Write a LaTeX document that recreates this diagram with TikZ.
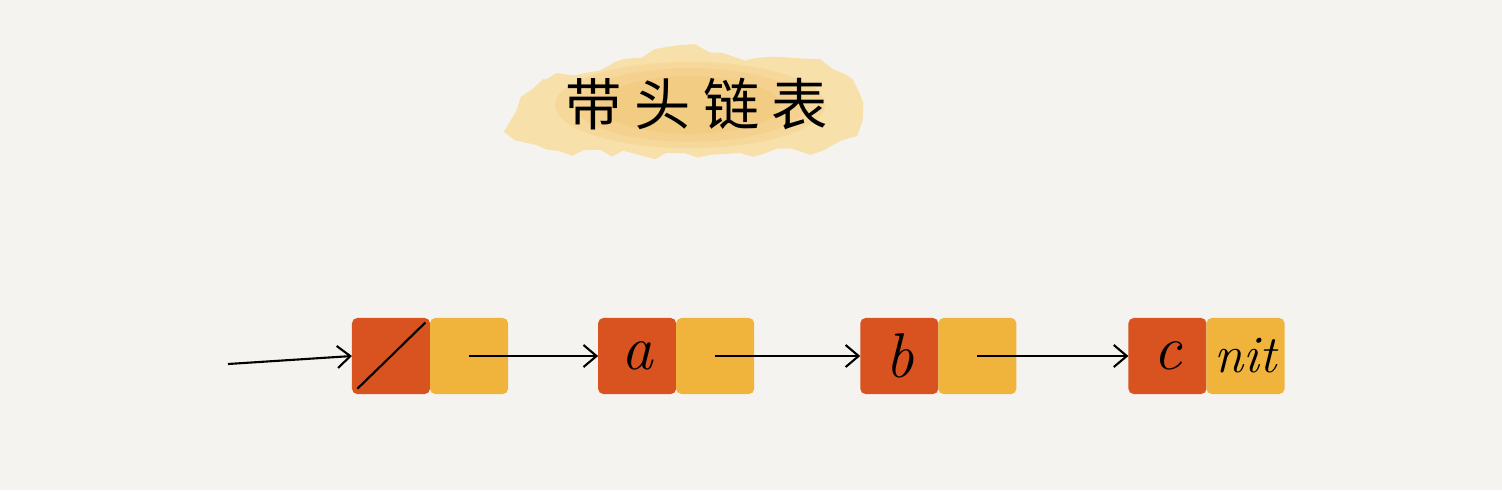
\documentclass[tikz,border=0pt]{standalone}
\usepackage{fontspec}
\newfontfamily\cjkfont[LetterSpace=22]{Noto Sans CJK SC}
\usepackage{tikz}
\usetikzlibrary{arrows.meta, positioning, calc, decorations.pathmorphing}
\definecolor{paper}{HTML}{F5F3F0}
\definecolor{keyred}{HTML}{D8531F}
\definecolor{nextyel}{HTML}{F0B43D}
\definecolor{blobpale}{HTML}{F8E0AA}
\definecolor{blobdeep}{HTML}{F2C470}

\begin{document}
\begin{tikzpicture}[x=0.01cm, y=-0.01cm, node distance=0.9cm,
    cell/.style={rounded corners=1.5pt, minimum width=0.78cm, minimum height=0.76cm, inner sep=0pt,
                 outer sep=0pt, font=\fontsize{18}{20}\selectfont\itshape},
    keybox/.style={cell, fill=keyred},
    nextbox/.style={cell, fill=nextyel},
    link/.style={-{Straight Barb[length=1.3mm, width=2.2mm]}, line width=0.6pt}]
    % canvas
    \fill[paper] (0,0) rectangle (1502,490);
    \useasboundingbox (0,0) rectangle (1502,490);

    % title patch
    \pgfmathsetseed{7}
    \fill[blobpale, decorate, decoration={random steps, segment length=4pt, amplitude=1.2pt}]
      plot[smooth cycle] coordinates {(518,112) (545,80) (600,70) (680,46) (745,60)
                                      (805,60) (852,80) (860,120) (822,148) (740,153)
                                      (640,155) (560,151) (516,138)};
    \foreach \r/\o in {135/0.25, 115/0.3, 90/0.35}
      \fill[blobdeep, opacity=\o] (690,105) ellipse [x radius=\r, y radius=\r*0.32];
    \node[font=\cjkfont\fontsize{16}{18}\selectfont] (title) at (697,104) {带头链表};

    % list cells
    \node[keybox]                      (k1) at (391,356) {};
    \node[nextbox, right=0pt of k1]    (n1) {};
    \node[keybox,  right=0.9cm of n1]  (k2) {a};
    \node[nextbox, right=0pt of k2]    (n2) {};
    \node[keybox,  right=1.06cm of n2] (k3) {b};
    \node[nextbox, right=0pt of k3]    (n3) {};
    \node[keybox,  right=1.12cm of n3] (k4) {c};
    \node[nextbox, right=0pt of k4, font=\fontsize{15}{17}\selectfont\itshape] (n4) {nit};

    % head slash
    \draw[line width=0.6pt] ($(k1.south west)!.07!(k1.north east)$) -- ($(k1.south west)!.94!(k1.north east)$);

    % pointers
    \coordinate (head) at (228,364);
    \draw[link] (head) -- (k1.west);
    \draw[link] (n1.center) -- (k2.west);
    \draw[link] (n2.center) -- (k3.west);
    \draw[link] (n3.center) -- (k4.west);
\end{tikzpicture}
\end{document}
